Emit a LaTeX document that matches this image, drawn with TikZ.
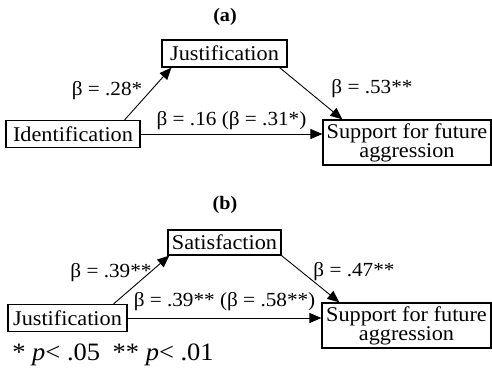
\documentclass[tikz,border=0pt]{standalone}
\usepackage{fontspec}
\setmainfont[FakeStretch=1.06]{Liberation Serif}
\usetikzlibrary{arrows.meta,positioning}
\tikzset{
  mdbox/.style={
    draw, line width=1.2pt, inner xsep=3pt, inner ysep=0pt, minimum height=27pt,
    font=\fontsize{21}{19}\selectfont, align=center
  },
  mdout/.style={mdbox, minimum width=168pt, minimum height=45pt},
  mdlabel/.style={font=\fontsize{20}{22}\selectfont, inner sep=0pt},
  mdtitle/.style={font=\fontsize{19}{21}\selectfont\bfseries, inner sep=0pt},
  mdnote/.style={font=\fontsize{25}{27}\selectfont, inner sep=0pt},
  mdpath/.style={-{Triangle[length=12pt,width=10pt]}, line width=0.9pt}
}
\begin{document}
\begin{tikzpicture}[x=1pt, y=-1pt]
  \useasboundingbox (0,0) rectangle (492,377);
  % (a)
  \node[mdtitle] (ttla) at (225,17) {(a)};
  \node[mdbox, minimum width=125pt] (justa) at (224.5,53.5) {Justification};
  \node[mdbox, minimum width=134pt] (ident) at (73,134) {Identification};
  \node[mdout] (suppa) at (407,142.5) {Support for future\\aggression};
  \draw[mdpath] ([xshift=-16pt]ident.north east) -- ([xshift=10pt]justa.south west)
    node[midway, mdlabel, xshift=-41pt, yshift=3.5pt] {β = .28*};
  \draw[mdpath] ([xshift=-8pt]justa.south east) -- ([xshift=20pt]suppa.north west)
    node[midway, mdlabel, xshift=61pt, yshift=4.5pt] {β = .53**};
  \draw[mdpath] (ident.east) -- (ident.east -| suppa.west)
    node[midway, mdlabel, yshift=13pt] {β = .16 (β = .31*)};
  % (b)
  \node[mdtitle] (ttlb) at (225,205) {(b)};
  \node[mdbox, minimum width=113pt, minimum height=25pt] (satis) at (224.5,242.5) {Satisfaction};
  \node[mdbox, minimum width=119pt] (justb) at (67.5,318) {Justification};
  \node[mdout, minimum width=169pt] (suppb) at (406.5,325.5) {Support for future\\aggression};
  \draw[mdpath] ([xshift=-14pt]justb.north east) -- ([xshift=2pt]satis.south west)
    node[midway, mdlabel, xshift=-30.5pt, yshift=7.5pt] {β = .39**};
  \draw[mdpath] (satis.south east) -- ([xshift=18pt]suppb.north west)
    node[midway, mdlabel, xshift=43.5pt, yshift=7pt] {β = .47**};
  \draw[mdpath] (justb.east) -- (justb.east -| suppb.west)
    node[midway, mdlabel, yshift=16pt] {β = .39** (β = .58**)};
  \node[mdnote] (note) at (113,355) {* \textit{p}< .05\hspace{0.5em}** \textit{p}< .01};
\end{tikzpicture}
\end{document}
